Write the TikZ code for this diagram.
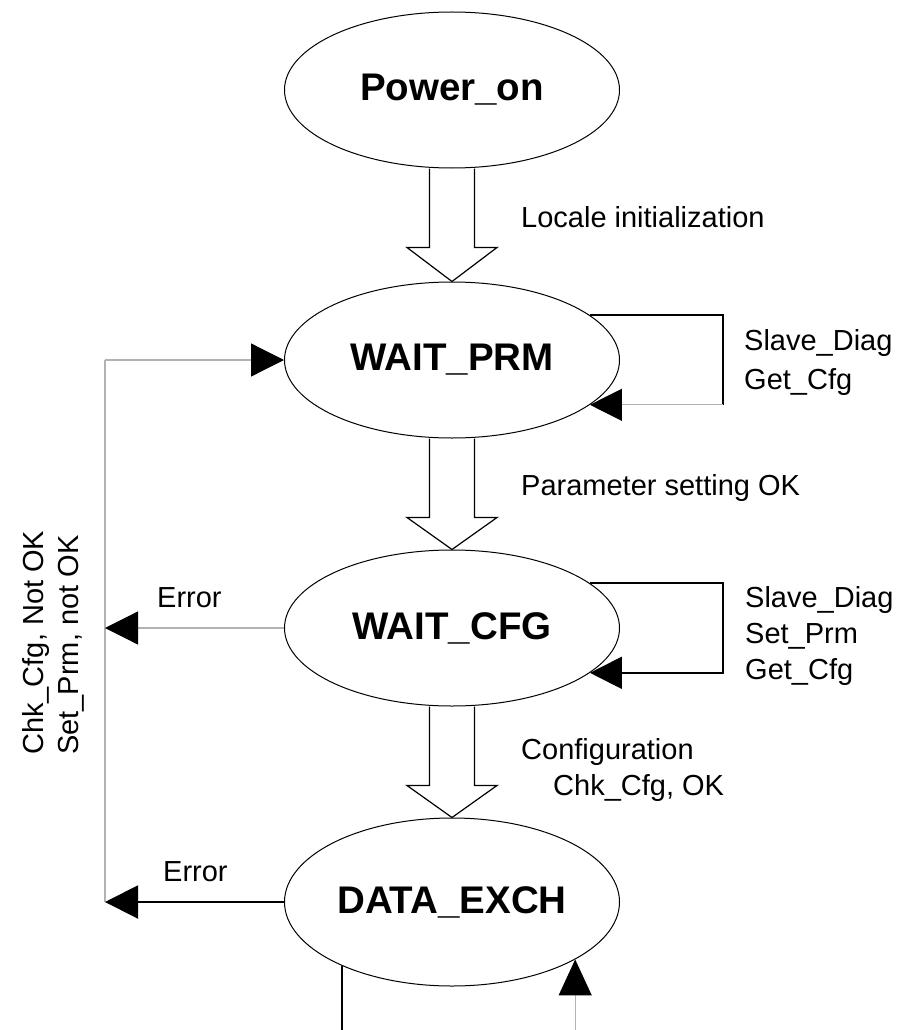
\documentclass[tikz,border=0pt]{standalone}
\usepackage{fontspec}
\setmainfont{Liberation Sans}
\usetikzlibrary{shapes.geometric, arrows.meta, calc}
\begin{document}
\begin{tikzpicture}[x=1pt,y=-1pt,
  state/.style={ellipse, draw=black, line width=1pt, minimum width=335pt, minimum height=156pt, inner sep=0pt, font=\fontsize{38.5}{40}\selectfont\bfseries},
  lbl/.style={font=\fontsize{29}{36}\selectfont, inner sep=0pt, anchor=base west},
  blk/.style={draw=black, line width=2pt},
  gry/.style={draw=black!30, line width=1.2pt},
  tipb/.style={-{Triangle[length=33pt,width=33pt,color=black]}},
  tipl/.style={-{Triangle[length=32pt,width=32pt,color=black]}},
  tipu/.style={-{Triangle[length=36pt,width=33pt,color=black]}},
  hollow/.style={draw=black, line width=1.2pt, line join=miter},
]
\useasboundingbox (0,0) rectangle (903,1030);

% states
\node[state] (pow) at (452,90) {Power\_on};
\node[state] (prm) at (452,360) {WAIT\_PRM};
\node[state] (cfg) at (452,628) {WAIT\_CFG};
\node[state, minimum height=168pt] (dx) at (452,902) {DATA\_EXCH};

% hollow transition arrows
\draw[hollow] ($(pow.south)+(-22.5,0)$) -- ++(0,79) -- ++(-22.5,0) -- (prm.north)
  -- ($(pow.south)+(45,79)$) -- ++(-22.5,0) -- ++(0,-79);
\draw[hollow] ($(prm.south)+(-22.5,0)$) -- ++(0,79) -- ++(-22.5,0) -- (cfg.north)
  -- ($(prm.south)+(45,79)$) -- ++(-22.5,0) -- ++(0,-79);
\draw[hollow] ($(cfg.south)+(-22.5,0)$) -- ++(0,79) -- ++(-22.5,0) -- (dx.north)
  -- ($(cfg.south)+(45,79)$) -- ++(-22.5,0) -- ++(0,-79);

% labels of transitions
\node[lbl] (t1) at (521,227) {Locale initialization};
\node[lbl] (t2) at (521,495) {Parameter setting OK};
\node[lbl] (t3a) at (521,759) {Configuration};
\node[lbl] (t3b) at (553,795) {Chk\_Cfg, OK};

% self loops
\draw[blk] (prm.18) -| ($(prm.-18)+(133,0)$);
\draw[gry, tipl] ($(prm.-18)+(133,0)$) -- (prm.-18);
\node[lbl] (s1a) at (744,350) {Slave\_Diag};
\node[lbl] (s1b) at (744,389) {Get\_Cfg};

\draw[blk, tipl] (cfg.18) -| ($(cfg.-18)+(133,0)$) -- (cfg.-18);
\node[lbl] (s2a) at (745,607) {Slave\_Diag};
\node[lbl] (s2b) at (745,643) {Set\_Prm};
\node[lbl] (s2c) at (745,679) {Get\_Cfg};

% error feedback
\coordinate (lt) at (105,360);
\coordinate (lb) at (105,902);
\draw[gry] (lt) -- (lb);
\draw[gry, tipb] (lt) -- (prm.west);
\draw[gry, tipb] (cfg.west) -- (cfg.west -| lt);
\draw[blk, tipb] (dx.west) -- (dx.west -| lt);
\node[lbl] (e1) at (157,607) {Error};
\node[lbl] (e2) at (163,881) {Error};
\node[lbl, rotate=90] (r1) at (43,755) {Chk\_Cfg, Not OK};
\node[lbl, rotate=90] (r2) at (78,755) {Set\_Prm, not OK};

% bottom connectors
\coordinate (bot) at (0,1030);
\draw[blk] (dx.210) -- (dx.210 |- bot);
\draw[gry, tipu] (dx.335 |- bot) -- (dx.335);
\end{tikzpicture}
\end{document}
